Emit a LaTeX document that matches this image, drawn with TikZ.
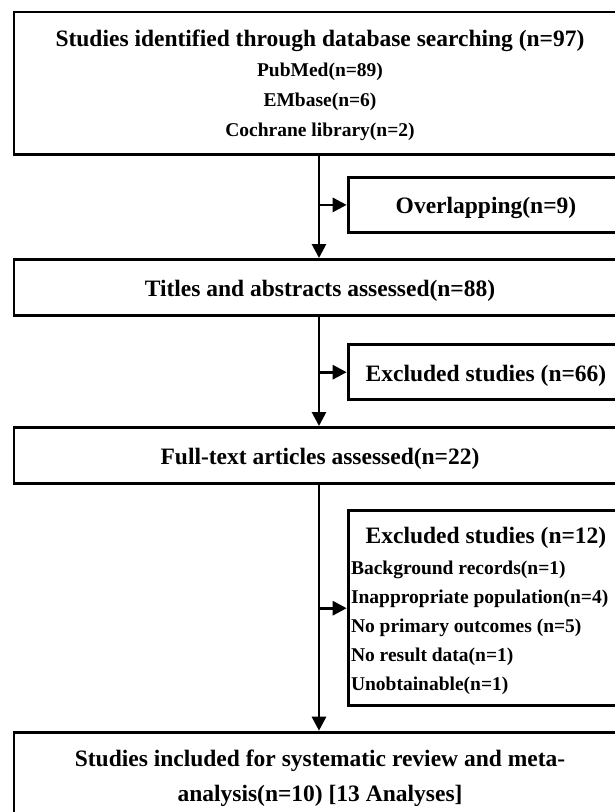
\documentclass[tikz,border=0pt]{standalone}
\usepackage{fontspec}
\setmainfont{Liberation Serif}
\usetikzlibrary{arrows.meta}
\begin{document}
\begin{tikzpicture}[x=1pt,y=-1pt,
  box/.style={draw=black, line width=2.8pt, fill=none, inner sep=0pt, anchor=north west, minimum width=640pt},
  sidebox/.style={draw=black, line width=2.8pt, fill=none, inner sep=0pt, anchor=north west, minimum width=320pt},
  bigtxt/.style={inner sep=0pt, anchor=base, font=\bfseries\fontsize{23.5}{28}\selectfont},
  smalltxt/.style={inner sep=0pt, anchor=base, font=\bfseries\fontsize{19.5}{23}\selectfont},
  listtxt/.style={inner sep=0pt, anchor=base west, font=\bfseries\fontsize{19.5}{23}\selectfont},
  arr/.style={line width=2.8pt, -{Triangle[length=14pt,width=14pt]}}]
\useasboundingbox (0,0) rectangle (615,812);
\fill[white] (0,0) rectangle (615,812);
\clip (0,0) rectangle (615,812);
\coordinate (spine) at (319,0);
% boxes
\node[box, minimum height=142.2pt] (top) at (12.5,10.5) {};
\node[sidebox, minimum height=55pt] (ovl) at (346.7,176) {};
\node[box, minimum height=56pt] (titles) at (12.5,258) {};
\node[sidebox, minimum height=55pt] (exa) at (346.7,343.3) {};
\node[box, minimum height=56pt] (full) at (12.5,426) {};
\node[sidebox, minimum height=195pt] (exb) at (346.7,509.3) {};
\node[box, minimum height=140pt] (incl) at (12.5,730.7) {};
% texts
\node[bigtxt] (t1) at (320,46.7) {Studies identified through database searching (n=97)};
\node[smalltxt] (t2) at (320,76.7) {PubMed(n=89)};
\node[smalltxt] (t3) at (320,106.7) {EMbase(n=6)};
\node[smalltxt] (t4) at (320,136.7) {Cochrane library(n=2)};
\node[bigtxt] (o1) at (486,213.3) {Overlapping(n=9)};
\node[bigtxt] (ti1) at (320,296.7) {Titles and abstracts assessed(n=88)};
\node[bigtxt] (e1) at (486,381.5) {Excluded studies (n=66)};
\node[bigtxt] (f1) at (320,464.5) {Full-text articles assessed(n=22)};
\node[bigtxt] (x0) at (486,543.3) {Excluded studies (n=12)};
\node[listtxt] (x1) at (350.8,574.3) {Background records(n=1)};
\node[listtxt] (x2) at (350.8,603.3) {Inappropriate population(n=4)};
\node[listtxt] (x3) at (350.8,632.7) {No primary outcomes (n=5)};
\node[listtxt] (x4) at (350.8,661.7) {No result data(n=1)};
\node[listtxt] (x5) at (350.8,690.7) {Unobtainable(n=1)};
\node[bigtxt] (i1) at (320,766) {Studies included for systematic review and meta-};
\node[bigtxt] (i2) at (320,801.7) {analysis(n=10) [13 Analyses]};
% connectors
\draw[arr] (top.south -| spine) -- (titles.north -| spine);
\draw[arr] (spine |- ovl.west) -- (ovl.west);
\draw[arr] (titles.south -| spine) -- (full.north -| spine);
\draw[arr] (spine |- exa.west) -- (exa.west);
\draw[arr] (full.south -| spine) -- (incl.north -| spine);
\draw[arr] (spine |- exb.west) -- (exb.west);
\end{tikzpicture}
\end{document}
